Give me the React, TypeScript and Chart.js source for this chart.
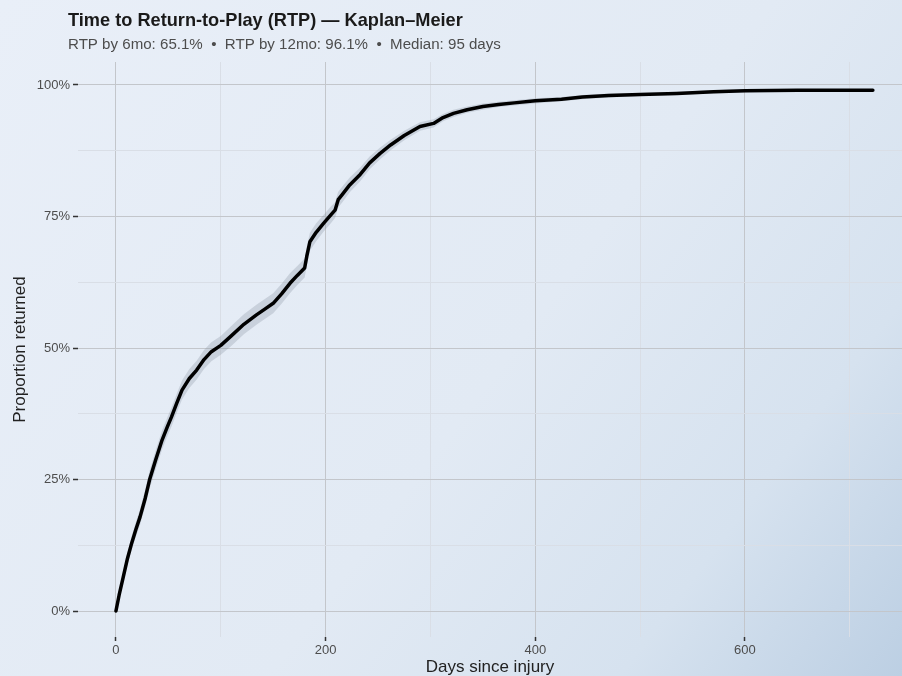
import React, { useEffect, useRef } from "react";
import { Chart, registerables } from "chart.js";

Chart.register(...registerables);

const TITLE = "Time to Return-to-Play (RTP) \u2014 Kaplan\u2013Meier";
const SUBTITLE = "RTP by 6mo: 65.1%  \u2022  RTP by 12mo: 96.1%  \u2022  Median: 95 days";
const X_TITLE = "Days since injury";
const Y_TITLE = "Proportion returned";

const days = [0,3,7,11,15,19,23,28,32,38,44,49,53,58,63,70,77,84,91,100,110,122,134,142,150,158,166,173,180,182,185,191,198,205,209,212,216,223,233,242,252,262,275,290,303,312,322,335,350,365,380,400,425,445,470,500,535,570,600,650,722];
const returned = [0,3.0,6.5,10,12.9,15.5,17.9,21.5,24.9,28.8,32.5,35,36.9,39.5,42,44.2,45.8,47.8,49.3,50.5,52.3,54.5,56.3,57.4,58.5,60.3,62.3,63.8,65.2,67.4,70.2,72,73.7,75.3,76.2,78.2,79.2,81,83,85.2,87,88.6,90.4,92.1,92.7,93.8,94.6,95.3,95.9,96.3,96.6,97.0,97.3,97.7,98.0,98.2,98.4,98.7,98.9,99.0,99.0];
const lowerCI = [0,2.4,5.6,8.9,11.6,14.1,16.4,19.9,23.2,27.0,30.7,33.2,35.1,37.7,40.2,42.4,44.0,46.0,47.5,48.7,50.4,52.6,54.4,55.5,56.6,58.4,60.4,62.0,63.4,65.6,68.5,70.3,72.1,73.7,74.7,76.7,77.7,79.6,81.7,84.0,85.9,87.6,89.5,91.3,91.9,93.1,93.9,94.7,95.3,95.8,96.1,96.5,96.9,97.3,97.6,97.9,98.1,98.4,98.6,98.8,98.8];
const upperCI = [0,3.6,7.4,11.1,14.2,16.9,19.4,23.1,26.6,30.6,34.3,36.8,38.7,41.3,43.8,46.0,47.6,49.6,51.1,52.3,54.2,56.4,58.2,59.3,60.4,62.2,64.2,65.6,67.0,69.2,71.9,73.7,75.3,76.9,77.7,79.7,80.7,82.4,84.3,86.4,88.1,89.6,91.3,92.9,93.5,94.5,95.3,95.9,96.5,96.8,97.1,97.5,97.7,98.1,98.4,98.5,98.7,99.0,99.2,99.2,99.2];

const xTicks = [0, 100, 200, 300, 400, 500, 600, 700];
const xMajor = [0, 200, 400, 600];
const yTicks = [0, 12.5, 25, 37.5, 50, 62.5, 75, 87.5, 100];
const yMajor = [0, 25, 50, 75, 100];

const FONT = "'Liberation Sans', Arial, sans-serif";

const bgPlugin = {
  id: "bg",
  beforeDraw(chart: any) {
    const { ctx, width, height } = chart;
    ctx.save();
    const g = ctx.createLinearGradient(0, 0, width, height);
    g.addColorStop(0, "#e9eff8");
    g.addColorStop(0.55, "#e2eaf4");
    g.addColorStop(0.8, "#d6e2ef");
    g.addColorStop(1, "#bccfe3");
    ctx.fillStyle = g;
    ctx.fillRect(0, 0, width, height);
    ctx.restore();
  },
};

const titlePlugin = {
  id: "titles",
  afterDraw(chart: any) {
    const { ctx } = chart;
    ctx.save();
    ctx.textAlign = "left";
    ctx.textBaseline = "alphabetic";
    ctx.fillStyle = "#1a1a1a";
    ctx.font = `bold 18.2px ${FONT}`;
    ctx.fillText(TITLE, 68, 26);
    ctx.fillStyle = "#4d4d4d";
    ctx.font = `15.1px ${FONT}`;
    ctx.fillText(SUBTITLE, 68, 49);
    ctx.restore();
  },
};

export default function App() {
  const ref = useRef<HTMLCanvasElement>(null);
  useEffect(() => {
    if (!ref.current) return;
    const pts = (arr: number[]) => days.map((d, i) => ({ x: d, y: arr[i] }));
    const chart = new Chart(ref.current, {
      type: "line",
      data: {
        datasets: [
          { data: pts(lowerCI), order: 2, borderColor: "transparent", borderWidth: 0, pointRadius: 0, fill: false },
          { data: pts(upperCI), order: 1, borderColor: "transparent", borderWidth: 0, pointRadius: 0, fill: "-1", backgroundColor: "rgba(130,140,155,0.28)" },
          { data: pts(returned), order: 0, borderColor: "#000000", borderWidth: 3.5, pointRadius: 0, fill: false, borderJoinStyle: "round", borderCapStyle: "round" },
        ],
      },
      options: {
        animation: false,
        responsive: false,
        layout: { padding: { top: 62, right: 0, left: 0, bottom: 0 } },
        plugins: { legend: { display: false }, tooltip: { enabled: false }, title: { display: false } },
        scales: {
          x: {
            type: "linear",
            min: -36.2,
            max: 749.8,
            afterBuildTicks: (s: any) => { s.ticks = xTicks.map((v) => ({ value: v })); },
            afterFit: (s: any) => { s.height = 39; },
            border: { display: false },
            grid: {
              color: (c: any) => (xMajor.includes(c.tick?.value) ? "#c3c6cb" : "#d9dee6"),
              lineWidth: 1,
              tickLength: 4,
              tickWidth: 1.5,
              tickColor: (c: any) => (xMajor.includes(c.tick?.value) ? "#333333" : "rgba(0,0,0,0)"),
            },
            ticks: {
              padding: 2,
              color: "#4d4d4d",
              font: { family: FONT, size: 13 },
              maxRotation: 0,
              autoSkip: false,
              callback: (v: any) => (xMajor.includes(v) ? String(v) : ""),
            },
            title: { display: true, text: X_TITLE, color: "#222222", font: { family: FONT, size: 17, lineHeight: 1 }, padding: { top: 0, bottom: 0 } },
          },
          y: {
            type: "linear",
            min: -4.94,
            max: 104.37,
            afterBuildTicks: (s: any) => { s.ticks = yTicks.map((v) => ({ value: v })); },
            afterFit: (s: any) => { s.width = 78; },
            border: { display: false },
            grid: {
              color: (c: any) => (yMajor.includes(c.tick?.value) ? "#c3c6cb" : "#d9dee6"),
              lineWidth: 1,
              tickLength: 5,
              tickWidth: 1.5,
              tickColor: (c: any) => (yMajor.includes(c.tick?.value) ? "#333333" : "rgba(0,0,0,0)"),
            },
            ticks: {
              padding: 3,
              color: "#4d4d4d",
              font: { family: FONT, size: 13 },
              autoSkip: false,
              callback: (v: any) => (yMajor.includes(v) ? `${v}%` : ""),
            },
            title: { display: true, text: Y_TITLE, color: "#222222", font: { family: FONT, size: 17, lineHeight: 1 }, padding: { top: 12, bottom: 0 } },
          },
        },
      },
      plugins: [bgPlugin, titlePlugin],
    } as any);
    return () => chart.destroy();
  }, []);
  return (
    <div style={{ position: "fixed", left: 0, top: 0, width: 902, height: 676 }}>
      <canvas ref={ref} width={902} height={676} style={{ display: "block" }} />
    </div>
  );
}
